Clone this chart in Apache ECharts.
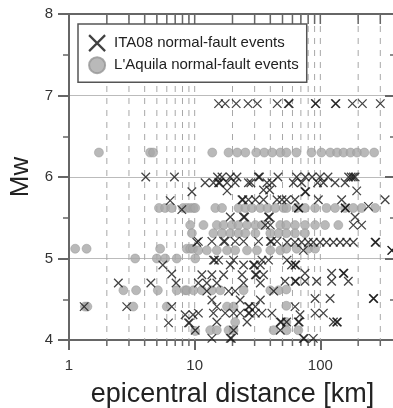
<!DOCTYPE html>
<html>
<head>
<meta charset="utf-8">
<script src="https://cdn.jsdelivr.net/npm/echarts@6/dist/echarts.min.js"></script>
<style>
html,body{margin:0;padding:0;background:#fff;overflow:hidden;}
#chart{width:393px;height:408px;}
</style>
</head>
<body>
<div id="chart"></div>
<script>
// ---- data ----
const seriesNames = ["ITA08 normal-fault events", "L'Aquila normal-fault events"];
const xLabelValues = [1, 10, 100];
const yTickValues = [4, 5, 6, 7, 8];
const minorDistanceValues = [2,3,4,5,6,7,8,9,20,30,40,50,60,70,80,90,200,300];
const dashedGridValues = [2,3,4,5,6,7,8,9,10,20,30,40,50,60,70,80,90,100,200,300];

// ITA08 events: [epicentral distance km, Mw]
const ita08Events = [
 [15.5,6.9],[17.5,6.9],[21.4,6.9],[26.6,6.9],[31.5,6.9],[45.4,6.9],[55.6,6.9],[56.5,6.9],[91.2,6.9],[92,6.9],[131.7,6.9],[133,6.9],[180,6.9],[216,6.9],[300,6.9],
 [4.08,6.0],[6.9,6.0],[15.2,6.0],[16.5,6.0],[19.2,6.0],[21.7,6.0],[32.2,6.0],[32.8,6.0],[46,6.0],[64.8,6.0],[76,6.0],[86,6.0],[99.4,6.0],[115,6.0],[168,6.0],[176,6.0],[183,6.0],[189,6.0],
 [12.1,5.93],[14.1,5.93],[15.5,5.93],[15.8,5.93],[18.1,5.93],[21.0,5.93],[26.8,5.93],[28,5.93],[37.6,5.93],[41.2,5.93],[61,5.93],[71,5.93],[95,5.93],[105.7,5.93],[131,5.93],[157.4,5.93],
 [9.5,5.82],[18.1,5.83],[35.3,5.84],[39.5,5.84],[75.5,5.82],[76.5,5.82],[194.7,5.83],
 [6.38,5.71],[23.8,5.72],[24.2,5.72],[26.8,5.72],[30.4,5.72],[35.3,5.72],[45.2,5.72],[49.5,5.72],[53.9,5.72],[62.9,5.72],[96.4,5.72],[147.8,5.72],[327.7,5.72],
 [7.9,5.6],[66.8,5.62],[67.5,5.62],[157.4,5.62],[158.5,5.62],[241.3,5.64],
 [19.2,5.51],[24.5,5.51],[25,5.51],[38.7,5.51],[39.3,5.51],[189,5.51],
 [36.5,5.41],[40,5.41],[183,5.41],[213,5.41],
 [10.4,5.2],[10.7,5.21],[13.7,5.21],[17,5.21],[17.4,5.21],[21,5.21],[24.5,5.21],[32.2,5.21],[40,5.21],[40.8,5.21],[45.2,5.21],[54.3,5.2],[62.9,5.2],[71,5.2],[80.2,5.2],[87.9,5.2],[99.4,5.2],[112,5.2],[127,5.2],[143.6,5.2],[162,5.2],[183,5.2],[273,5.2],[276,5.2],
 [73.2,5.1],[370,5.1],[372,5.1],
 [14.1,4.98],[14.4,4.98],[15.5,4.98],[20.4,4.98],[34.3,4.98],[38.7,4.98],[54.3,4.98],
 [5.58,4.92],[19.2,4.92],[24.5,4.92],[29.4,4.92],[29.9,4.92],[33.3,4.92],[59,4.92],[62.9,4.92],[63.8,4.92],
 [6.57,4.81],[11.4,4.8],[13.7,4.8],[17,4.8],[23.8,4.8],[30.4,4.8],[31,4.8],[35.3,4.8],[75.5,4.82],[123,4.82],[152.5,4.82],[154,4.82],
 [2.47,4.7],[4.48,4.7],[7.11,4.7],[10.7,4.7],[12.5,4.7],[15,4.7],[24.5,4.7],[33.3,4.7],[52.4,4.72],[62.9,4.72],[63.8,4.72],[75.5,4.72],[93.4,4.72],[123,4.72],[167,4.72],
 [12.5,4.6],[18.6,4.6],[21,4.6],[42.5,4.6],
 [13.7,4.49],[23,4.49],[33.3,4.49],[90.8,4.51],[119.5,4.51],[264,4.51],[266,4.51],
 [1.32,4.41],[2.88,4.41],[6.57,4.41],[15,4.41],[26.8,4.41],[27.3,4.41],[30.4,4.41],[62.9,4.41],
 [8.4,4.31],[9.7,4.31],[10.7,4.33],[14.1,4.33],[17.5,4.33],[20.4,4.33],[23,4.33],[26.8,4.33],[27.3,4.33],[30.4,4.33],[34.3,4.33],[41.2,4.33],[68.9,4.31],[90.8,4.33],[105.7,4.33],
 [6.19,4.21],[8.92,4.21],[9.1,4.21],[15,4.22],[26.1,4.22],[48,4.22],[48.8,4.22],[53.9,4.22],[66.8,4.22],[67.8,4.22],[127,4.22],[135,4.22],[136.5,4.22],
 [10.1,4.12],[20.4,4.12],[48,4.12],
 [13.7,4.02],[19.2,4.02],[19.6,4.02],[73.2,4.02],[74.5,4.02],[87.9,4.02]
];

// L'Aquila events: [epicentral distance km, Mw]
const aquilaEvents = [
 [1.73,6.3],[4.42,6.3],[4.67,6.3],[13.8,6.3],[18.6,6.3],[21.8,6.3],[25.3,6.3],[30.9,6.3],[35.8,6.3],[41.4,6.3],[48.1,6.3],[53.7,6.3],[64.5,6.3],[85,6.3],[102,6.3],[120,6.3],[136,6.3],[153,6.3],[174,6.3],[196,6.3],[224,6.3],[268,6.3],
 [5.2,5.62],[5.82,5.62],[6.57,5.62],[8.1,5.62],[8.66,5.62],[9.21,5.62],[9.78,5.62],[10.1,5.62],[14.6,5.62],[16.5,5.62],[22.3,5.62],[25.3,5.62],[28.6,5.62],[33.3,5.62],[38,5.62],[43.8,5.62],[51,5.62],[53.9,5.62],[64.8,5.62],[75.5,5.62],[90.8,5.62],[112,5.62],[131,5.62],[157,5.62],[183,5.62],[213,5.62],[273,5.62],
 [9.21,5.41],[11.75,5.41],[15,5.41],[17,5.41],[19.8,5.41],[22.3,5.41],[26.1,5.41],[30.4,5.41],[34.3,5.41],[48,5.41],[53.6,5.41],[62.9,5.41],[75.5,5.41],[90.8,5.41],[109,5.41],[139,5.41],
 [9.5,5.31],[14.1,5.31],[16.5,5.31],[19.2,5.31],[22.3,5.31],[25.3,5.31],[30.4,5.31],[40,5.31],[46.5,5.31],[53.6,5.31],[62.9,5.31],[75.5,5.31],
 [1.12,5.12],[1.38,5.12],[5.31,5.12],[8.66,5.12],[9.21,5.12],[9.7,5.12],[10.7,5.1],[12.5,5.1],[15,5.1],[18.1,5.1],[21,5.1],[26.1,5.1],[31.3,5.1],[40,5.1],[48,5.1],[53.6,5.12],[64.8,5.12],[80.2,5.12],[90.8,5.12],
 [3.36,5.0],[5.0,5.0],[5.82,5.0],[7.2,5.0],[10.1,5.0],
 [2.71,4.61],[3.42,4.61],[5.09,4.61],[7.2,4.61],[8.4,4.61],[8.66,4.61],[9.78,4.61],[11.4,4.61],[13.7,4.61],[16,4.61],[24.5,4.61],[40,4.61],[46.5,4.61],[53.6,4.62],
 [1.34,4.41],[1.40,4.41],[3.25,4.41],[6.0,4.41],[18.1,4.41],[20.4,4.41],[53.6,4.42],
 [21,4.22],[53.6,4.22],
 [10.1,4.11],[13.3,4.12],[15,4.12],[18.6,4.12],[20.4,4.12],[42.5,4.12],[53.9,4.12],[66.8,4.12]
];

// ---- chart ----
const X_MIN = 1, X_MAX = 400, Y_MIN = 4, Y_MAX = 8;
const FONT = "'Liberation Sans', Arial, sans-serif";
const AXIS_COLOR = '#666';
const crossPath = 'path://M0,0L10,10M10,0L0,10';

const chart = echarts.init(document.getElementById('chart'), null, {renderer: 'canvas'});

const decorData = dashedGridValues.map(v => [v, Y_MIN]);

const option = {
  animation: false,
  backgroundColor: '#fff',
  grid: {left: 69, width: 327, top: 14, height: 326, containLabel: false, outerBoundsMode: 'none'},
  legend: {
    orient: 'vertical',
    left: 78, top: 24,
    padding: [10, 8, 8, 10],
    itemGap: 4,
    itemWidth: 24, itemHeight: 16,
    backgroundColor: '#fff',
    borderColor: '#555', borderWidth: 1.5, borderRadius: 0,
    textStyle: {fontFamily: FONT, fontSize: 15, color: '#222'},
    data: [
      {name: seriesNames[0], icon: crossPath, itemStyle: {color: 'transparent', borderColor: '#111', borderWidth: 2.2}},
      {name: seriesNames[1], icon: 'circle'}
    ]
  },
  xAxis: [
    {
      type: 'log', logBase: 10, min: X_MIN, max: X_MAX, position: 'bottom',
      name: 'epicentral distance [km]', nameLocation: 'middle', nameGap: 41,
      nameTextStyle: {fontFamily: FONT, fontSize: 27, color: '#222'},
      axisLine: {show: true, lineStyle: {color: AXIS_COLOR, width: 2}},
      axisTick: {show: true, inside: false, length: 10, lineStyle: {color: AXIS_COLOR, width: 2}},
      axisLabel: {
        fontFamily: FONT, fontSize: 15, color: '#333', margin: 18,
        formatter: function (v) {
          const l = Math.log10(v);
          return (Math.abs(l - Math.round(l)) < 1e-6 && xLabelValues.indexOf(Math.round(v)) >= 0) ? String(Math.round(v)) : '';
        }
      },
      splitLine: {show: false}
    },
    {
      type: 'log', logBase: 10, min: X_MIN, max: X_MAX, position: 'top',
      axisLine: {show: true, lineStyle: {color: AXIS_COLOR, width: 2}},
      axisTick: {show: false},
      axisLabel: {show: false},
      splitLine: {show: false}
    }
  ],
  yAxis: [
    {
      type: 'value', min: Y_MIN, max: Y_MAX, interval: 1, position: 'left',
      name: 'Mw', nameLocation: 'middle', nameGap: 30, nameRotate: 90,
      nameTextStyle: {fontFamily: FONT, fontSize: 26, color: '#222'},
      axisLine: {show: true, lineStyle: {color: AXIS_COLOR, width: 2}},
      axisTick: {show: true, inside: false, length: 11, lineStyle: {color: AXIS_COLOR, width: 2}},
      minorTick: {show: true, splitNumber: 2, length: 6, lineStyle: {color: AXIS_COLOR, width: 1.5}},
      axisLabel: {fontFamily: FONT, fontSize: 15, color: '#333', margin: 16,
        formatter: v => (yTickValues.indexOf(v) >= 0 ? String(v) : '')},
      splitLine: {show: true, lineStyle: {color: '#bbb', width: 1}}
    },
    {
      type: 'value', min: Y_MIN, max: Y_MAX, interval: 1, position: 'right',
      axisLine: {show: true, lineStyle: {color: AXIS_COLOR, width: 2}},
      axisTick: {show: true, inside: true, length: 11, lineStyle: {color: AXIS_COLOR, width: 2}},
      minorTick: {show: true, splitNumber: 2, length: 6, lineStyle: {color: AXIS_COLOR, width: 1.5}},
      axisLabel: {show: false},
      splitLine: {show: false}
    }
  ],
  series: [
    {
      type: 'custom',
      name: 'decor',
      xAxisIndex: 0, yAxisIndex: 0,
      z: 1,
      silent: true,
      data: decorData,
      renderItem: function (params, api) {
        const v = api.value(0);
        const top = api.coord([v, Y_MAX]);
        const bot = api.coord([v, Y_MIN]);
        const children = [
          {type: 'line', shape: {x1: top[0], y1: top[1], x2: bot[0], y2: bot[1]},
           style: {stroke: '#a8a8a8', lineWidth: 1, lineDash: [6, 6]}},
          {type: 'line', shape: {x1: top[0], y1: top[1], x2: top[0], y2: top[1] + 10},
           style: {stroke: AXIS_COLOR, lineWidth: 1.5}}
        ];
        if (minorDistanceValues.indexOf(v) >= 0) {
          children.push({type: 'line', shape: {x1: bot[0], y1: bot[1], x2: bot[0], y2: bot[1] + 6},
            style: {stroke: AXIS_COLOR, lineWidth: 1.5}});
        }
        return {type: 'group', children: children};
      }
    },
    {
      type: 'scatter',
      name: seriesNames[1],
      xAxisIndex: 0, yAxisIndex: 0,
      z: 2,
      symbol: 'circle',
      symbolSize: 9,
      itemStyle: {color: '#a8a8a8', borderColor: '#959595', borderWidth: 0.6},
      data: aquilaEvents
    },
    {
      type: 'scatter',
      name: seriesNames[0],
      xAxisIndex: 0, yAxisIndex: 0,
      z: 3,
      symbol: crossPath,
      symbolSize: 8.5,
      itemStyle: {color: 'transparent', borderColor: '#151515', borderWidth: 1.3},
      data: ita08Events
    }
  ]
};

chart.setOption(option);
</script>
</body>
</html>
